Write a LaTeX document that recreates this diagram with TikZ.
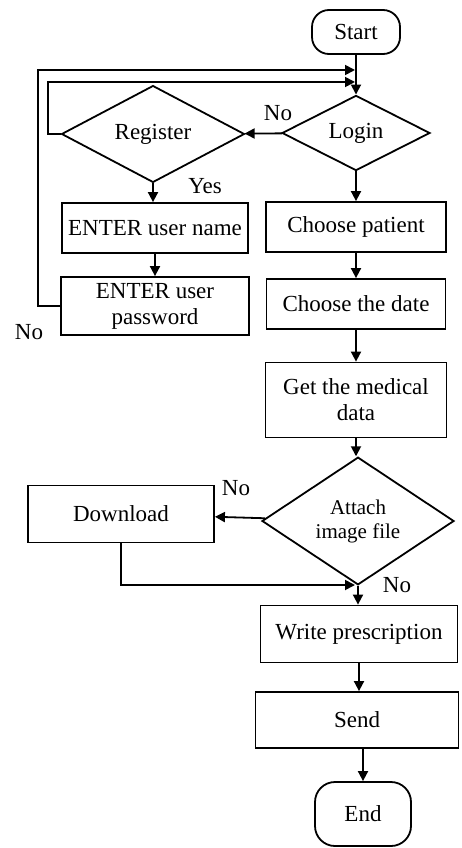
\documentclass[tikz,border=0pt]{standalone}
\usepackage{fontspec}
\setmainfont{Liberation Serif}
\usetikzlibrary{arrows.meta,shapes.geometric}

\begin{document}
\begin{tikzpicture}[x=1pt,y=-1pt,
	every node/.style={font=\fontsize{23}{26}\selectfont,inner sep=0pt},
	line/.style={line width=1.8pt},
	arr/.style={line,-{Triangle[length=10pt,width=10pt]}},
	box/.style={draw,line width=1.8pt,align=center},
	term/.style={box,rounded corners=17pt},
	cond/.style={box,diamond}]
			\useasboundingbox (0,0) rectangle (461,848);
			\node[term,minimum width=88,minimum height=44] (start) at (356,32) {Start};
			\node[cond,minimum width=148,minimum height=75] (login) at (356,133) {Login};
			\node[cond,minimum width=183,minimum height=75] (register) at (153,134) {Register};
			\node[box,minimum width=186,minimum height=50] (uname) at (155,228) {ENTER user name};
			\node[box,minimum width=188,minimum height=58] (upass) at (155,306) {ENTER user\\password};
			\node[box,minimum width=180,minimum height=50] (patient) at (356,227) {Choose patient};
			\node[box,minimum width=179,minimum height=50] (date) at (356,304) {Choose the date};
			\node[box,minimum width=181,minimum height=75] (medical) at (356,400) {Get the medical\\data};
			\node[cond,minimum width=192,minimum height=114,font=\fontsize{21}{24}\selectfont] (attach) at (358,521) {Attach\\image file};
			\node[box,minimum width=186,minimum height=57] (download) at (121,514) {Download};
			\node[box,minimum width=197,minimum height=57] (write) at (359,634) {Write prescription};
			\node[box,minimum width=203,minimum height=56] (send) at (357,720) {Send};
			\node[term,minimum width=96,minimum height=64,rounded corners=20pt] (end) at (363,814) {End};

			\coordinate (j1) at (355,70);
			\coordinate (j2) at (355,82);
			\coordinate (j3) at (355,585);

			\node (no1) at (278,113) {No};
			\node (yes) at (205,186) {Yes};
			\node (no2) at (29,332) {No};
			\node (no3) at (236,488) {No};
			\node (no4) at (397,585) {No};

			\draw[arr] (start) -- (login);
			\draw[arr] (login) -- (register);
			\draw[arr] (register.south) -- (register.south |- uname.north);
			\draw[arr] (uname) -- (upass);
			\draw[arr] (upass.west) -| (38,70) -- (j1);
			\draw[arr] (register.west) -- (48,134) |- (j2);
			\draw[arr] (login) -- (patient);
			\draw[arr] (patient) -- (date);
			\draw[arr] (date) -- (medical);
			\draw[arr] (medical.south) -- (medical.south |- attach.north);
			\draw[arr] (attach) -- (download);
			\draw[arr] (download.south) |- (j3);
			\draw[arr] (attach.south) -- (attach.south |- write.north);
			\draw[arr] (write) -- (write |- send.north);
			\draw[arr] (end.north |- send.south) -- (end);
\end{tikzpicture}
\end{document}
